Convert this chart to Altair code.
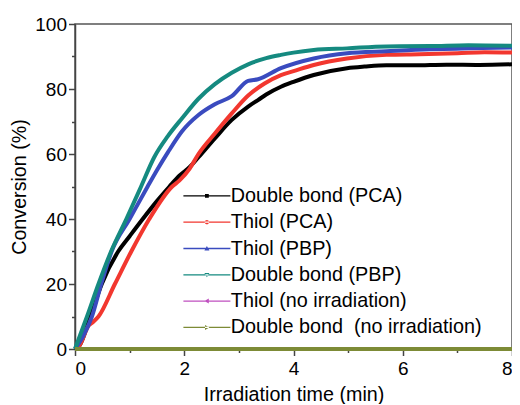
import altair as alt
import pandas as pd

FONT = "Liberation Sans"

series_names = [
    "Double bond (PCA)",
    "\u00a0Thiol (PCA)",
    "\u00a0Thiol (PBP)",
    "Double bond (PBP)",
    "\u00a0Thiol (no irradiation)",
    "\u00a0Double bond\u00a0 (no irradiation)",
]
series_colors = ["#000000", "#f2372f", "#3a4bbf", "#158a80", "#c050c0", "#7d8b36"]

# legend marker shapes (square, circle, up, down, left, right) drawn on a short line
marker_paths = [
    "M-0.38,-0.38H0.38V0.38H-0.38Z",
    "M-0.42,0A0.42,0.42 0 1,0 0.42,0A0.42,0.42 0 1,0 -0.42,0Z",
    "M0,-0.5L0.5,0.38H-0.5Z",
    "M0,0.5L0.5,-0.38H-0.5Z",
    "M-0.5,0L0.38,-0.5V0.5Z",
    "M0.5,0L-0.38,-0.5V0.5Z",
]
line_path = "M-4.7,-0.13H4.7V0.13H-4.7Z"
legend_shapes = [line_path + mp for mp in marker_paths]

# Double bond (PCA)
t_black = [0, 0.08, 0.28, 0.49, 0.79, 1.0, 1.24, 1.5, 1.73, 1.91, 2.1, 2.26, 2.56, 2.87,
           3.17, 3.35, 3.5, 3.77, 4.0, 4.37, 4.98, 5.3, 5.7, 6.2, 6.8, 7.4, 8.0]
v_black = [0, 1, 10, 20, 30, 34.7, 40, 45.5, 50, 53.3, 56, 59, 64.8, 70.5,
           74.6, 76.6, 78.3, 80.7, 82.2, 84.3, 86.4, 86.9, 87.3, 87.3, 87.5, 87.4, 87.6]

# Thiol (PCA)
t_red = [0, 0.08, 0.25, 0.33, 0.43, 0.73, 1.03, 1.36, 1.78, 1.91, 2.1, 2.26, 2.56, 2.87,
         3.17, 3.47, 3.77, 4.0, 4.37, 4.98, 5.7, 6.3, 7.0, 7.5, 8.0]
v_red = [0, 1, 7.2, 8.3, 10, 20, 30, 40, 50, 51.8, 55.5, 60, 66.3, 72.5,
         78, 81.7, 84.3, 85.5, 87.4, 89.4, 90.5, 90.7, 91, 91.3, 91.2]

# Thiol (PBP)
t_blue = [0, 0.15, 0.31, 0.48, 0.67, 1.0, 1.33, 1.5, 1.7, 1.96, 2.26, 2.56, 2.87, 3.17,
          3.35, 3.77, 4.37, 4.98, 5.7, 6.5, 7.2, 8.0]
v_blue = [0, 4, 10, 20, 30, 40, 50, 55, 60.5, 67, 72, 75.3, 77.8, 82.5,
          83, 86.4, 89.4, 91, 91.6, 92.2, 92.5, 92.8]

# Double bond (PBP)
t_teal = [0, 0.22, 0.43, 0.66, 0.94, 1.21, 1.45, 1.7, 1.96, 2.26, 2.56, 2.87, 3.17, 3.5,
          3.77, 4.0, 4.37, 4.98, 5.7, 6.5, 7.2, 8.0]
v_teal = [0, 10, 20, 30, 40, 50, 59, 65.5, 71, 77, 81.5, 85, 87.6, 89.5,
          90.5, 91.2, 92, 92.5, 93.1, 93.2, 93.5, 93.3]

# no irradiation
t_zero = [0, 2, 4, 6, 8]
v_magenta = [0, 0, 0, 0, 0]
v_olive = [0, 0, 0, 0, 0]

all_t = [t_black, t_red, t_blue, t_teal, t_zero, t_zero]
all_v = [v_black, v_red, v_blue, v_teal, v_magenta, v_olive]

rows = []
for k, (name, ts, vs) in enumerate(zip(series_names, all_t, all_v)):
    for i, (t, v) in enumerate(zip(ts, vs)):
        rows.append({"series": name, "k": k, "i": i, "t": t, "v": v})
df = pd.DataFrame(rows)
df_first = df[df["i"] == 0]

legend = alt.Legend(
    orient="none",
    legendX=122,
    legendY=162,
    title=None,
    symbolSize=100,
    symbolOpacity=1,
    symbolStrokeWidth=0,
    labelFont=FONT,
    labelFontSize=19.8,
    labelColor="#000000",
    labelOffset=14,
    labelLimit=0,
    rowPadding=5.3,
    padding=0,
)

x_axis = alt.Axis(
    values=list(range(0, 9)),
    labelExpr="datum.value % 2 == 0 ? datum.label : ''",
    tickSize={"condition": {"test": "datum.value % 2 != 0", "value": 3.5}, "value": 6.5},
    title="Irradiation time (min)",
    grid=False,
    labelPadding=4,
    titlePadding=6,
)
y_axis = alt.Axis(
    values=list(range(0, 101, 10)),
    labelExpr="datum.value % 20 == 0 ? datum.label : ''",
    tickSize={"condition": {"test": "datum.value % 20 != 0", "value": 3.5}, "value": 6.5},
    title="Conversion (%)",
    grid=False,
    labelPadding=2,
    titlePadding=5,
)

xs = alt.X("t:Q", scale=alt.Scale(domain=[0, 8], nice=False), axis=x_axis)
ys = alt.Y("v:Q", scale=alt.Scale(domain=[0, 100], nice=False), axis=y_axis)
color_scale = alt.Scale(domain=series_names, range=series_colors)

lines = (
    alt.Chart(df)
    .mark_line(strokeWidth=4, interpolate="monotone")
    .encode(
        x=xs,
        y=ys,
        color=alt.Color("series:N", scale=color_scale, legend=legend),
        detail="k:N",
        order="i:Q",
    )
)

legend_layer = (
    alt.Chart(df_first)
    .mark_point(filled=True, opacity=0, size=100)
    .encode(
        x=xs,
        y=ys,
        color=alt.Color("series:N", scale=color_scale, legend=legend),
        shape=alt.Shape(
            "series:N",
            scale=alt.Scale(domain=series_names, range=legend_shapes),
            legend=legend,
        ),
    )
)

chart = (
    alt.layer(lines, legend_layer)
    .properties(
        width=437,
        height=325,
        autosize=alt.AutoSizeParams(type="none"),
        padding={"left": 67, "top": 16, "right": 0, "bottom": 55},
    )
    .configure_view(stroke="#555555", strokeWidth=1.5)
    .configure_axis(
        labelFont=FONT,
        titleFont=FONT,
        labelFontSize=19,
        titleFontSize=19.7,
        titleFontWeight="normal",
        labelColor="#000000",
        titleColor="#000000",
        domainColor="#444444",
        domainWidth=1.5,
        tickColor="#444444",
        tickWidth=1.5,
    )
)

chart.save("out.html", embed_options={"renderer": "svg", "actions": False})
